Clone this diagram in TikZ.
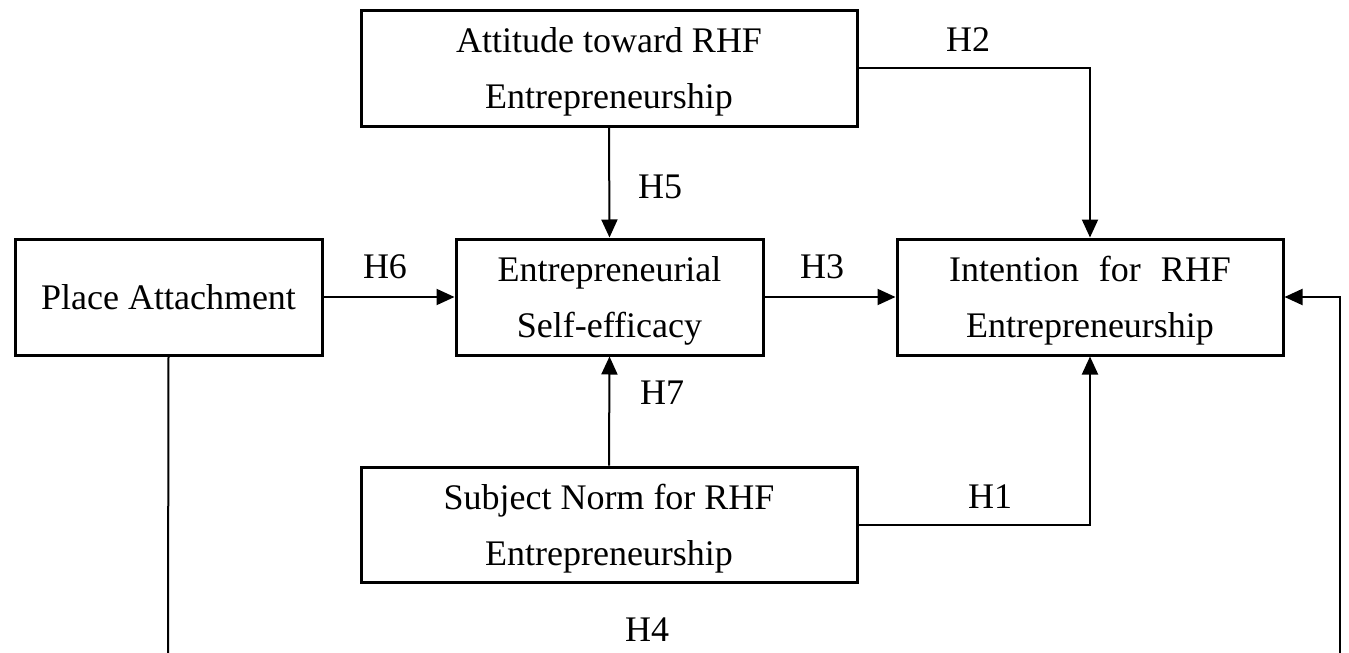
\documentclass[tikz,border=0pt]{standalone}
\usepackage{fontspec}
\setmainfont{Liberation Serif}
\usetikzlibrary{arrows.meta}
\newcommand{\lowstrut}{\rule{0pt}{16.5pt}}
\begin{document}
\begin{tikzpicture}[x=0.5pt,y=-0.5pt,
  box/.style={draw,line width=1.5pt,inner sep=0pt,align=center,
    font=\fontsize{18}{28}\selectfont},
  conn/.style={line width=1pt,-{Triangle[length=9pt,width=8pt]}},
  plain/.style={line width=1pt},
  lab/.style={font=\fontsize{18}{22}\selectfont}]
\useasboundingbox (0,0) rectangle (1349,653);
\node[box,minimum width=248pt,minimum height=58pt] (att) at (609,68) {\lowstrut Attitude toward RHF\\Entrepreneurship};
\node[box,minimum width=153.5pt,minimum height=58pt] (pla) at (168.5,297) {Place Attachment};
\node[box,minimum width=153.5pt,minimum height=58pt] (ses) at (609.5,297) {\lowstrut Entrepreneurial\\Self-efficacy};
\node[box,minimum width=193pt,minimum height=58pt] (int) at (1090,297) {\lowstrut Intention\hspace{10pt}for\hspace{10pt}RHF\\Entrepreneurship};
\node[box,minimum width=248pt,minimum height=57.5pt] (sub) at (609,524.5) {\lowstrut Subject Norm for RHF\\Entrepreneurship};
\coordinate (bl) at (168,653);
\coordinate (br) at (1340,653);
\draw[conn] (att.south) -- (ses.north);
\draw[conn] (att.east) -| (int.north);
\draw[conn] (pla.east) -- (ses.west);
\draw[conn] (ses.east) -- (int.west);
\draw[conn] (sub.north) -- (ses.south);
\draw[conn] (sub.east) -| (int.south);
\draw[plain] (pla.south) -- (bl);
\draw[conn] (br) |- (int.east);
\node[lab] (h2) at (968,40) {H2};
\node[lab] (h5) at (660,187) {H5};
\node[lab] (h6) at (385,267) {H6};
\node[lab] (h3) at (822,267) {H3};
\node[lab] (h7) at (662,393) {H7};
\node[lab] (h1) at (990,497) {H1};
\node[lab] (h4) at (647,630) {H4};
\end{tikzpicture}
\end{document}
